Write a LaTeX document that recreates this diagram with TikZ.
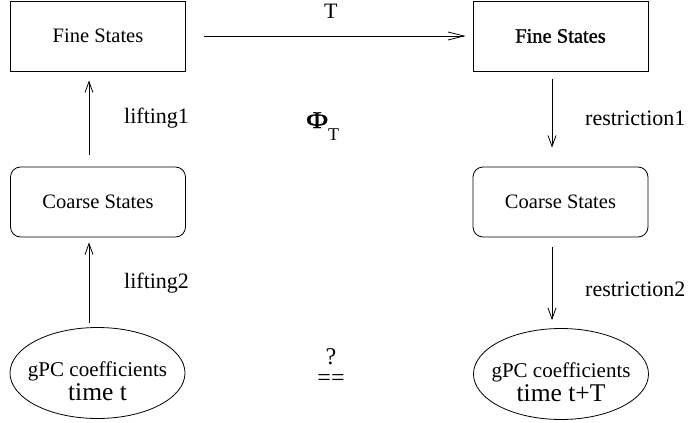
\documentclass[tikz,border=0pt]{standalone}
\usepackage{fontspec}
\usepackage{graphicx}
\setmainfont{Liberation Serif}
\newfontfamily\fbfont[FakeBold=1.2]{Liberation Serif}
\usetikzlibrary{shapes.geometric,arrows.meta}
\begin{document}
\begin{tikzpicture}[x=1pt,y=-1pt,
  every node/.style={inner sep=0pt},
  sqbox/.style={draw,line width=0.8pt,minimum width=175pt,minimum height=70pt,font=\fontsize{20.5}{24}\selectfont},
  rbox/.style={sqbox,rounded corners=10pt},
  ell/.style={draw,ellipse,line width=0.8pt,minimum width=175pt,minimum height=91pt},
  lbl/.style={anchor=base west,font=\fontsize{22}{26}\selectfont},
  arr/.style={line width=0.8pt,-{Straight Barb[length=11pt,width=8pt,line width=0.8pt]}},
  harr/.style={line width=0.8pt,-{Straight Barb[length=16pt,width=8pt,line width=0.8pt]}}]
\useasboundingbox (0,0) rectangle (691,423);
\node[sqbox] (fineL) at (98,36) {Fine States};
\node[sqbox] (fineR) at (560.5,36) {\fbfont Fine States};
\node[rbox] (coarseL) at (98,202) {Coarse States};
\node[rbox] (coarseR) at (560.5,202) {Coarse States};
\node[ell] (gL) at (97.5,373) {};
\node[ell] (gR) at (561,374) {};
\node[align=center] (gLt) at ([yshift=-8pt]gL.center) {{\fontsize{21}{25}\selectfont gPC coefficients}\\[2pt]{\fontsize{25.5}{29}\selectfont time t}};
\node[align=center] (gRt) at ([yshift=-8pt]gR.center) {{\fontsize{21}{25}\selectfont gPC coefficients}\\[2pt]{\fontsize{25.5}{29}\selectfont time t+T}};
\draw[harr] ([xshift=18pt]fineL.east) -- ([xshift=-7pt]fineR.west);
\node[lbl] (Tl) at (324,18) {T};
\node[anchor=base west] (phi) at (306,128) {{\fbfont\fontsize{24}{24}\selectfont\scalebox{1.25}[1]{Φ}}\raisebox{-12pt}{\fontsize{18}{18}\selectfont T}};
\draw[arr] ([xshift=-9pt,yshift=12pt]coarseL.north) -- ([xshift=-9pt,yshift=-9pt]fineL.south);
\draw[arr] ([xshift=-8.5pt,yshift=-8pt]fineR.south) -- ([xshift=-8.5pt,yshift=19pt]coarseR.north);
\draw[arr] ([xshift=-8.5pt,yshift=4pt]gL.north) -- ([xshift=-9pt,yshift=-5pt]coarseL.south);
\draw[arr] ([xshift=-8.5pt,yshift=-10pt]coarseR.south) -- ([xshift=-9pt,yshift=8pt]gR.north);
\node[lbl] (l1) at (124,123) {lifting1};
\node[lbl] (l2) at (124,288) {lifting2};
\node[lbl] (r1) at (585,125) {restriction1};
\node[lbl] (r2) at (585,296) {restriction2};
\node[align=center,font=\fontsize{24}{21}\selectfont] (eq) at (331,367) {?\\==};
\end{tikzpicture}
\end{document}
